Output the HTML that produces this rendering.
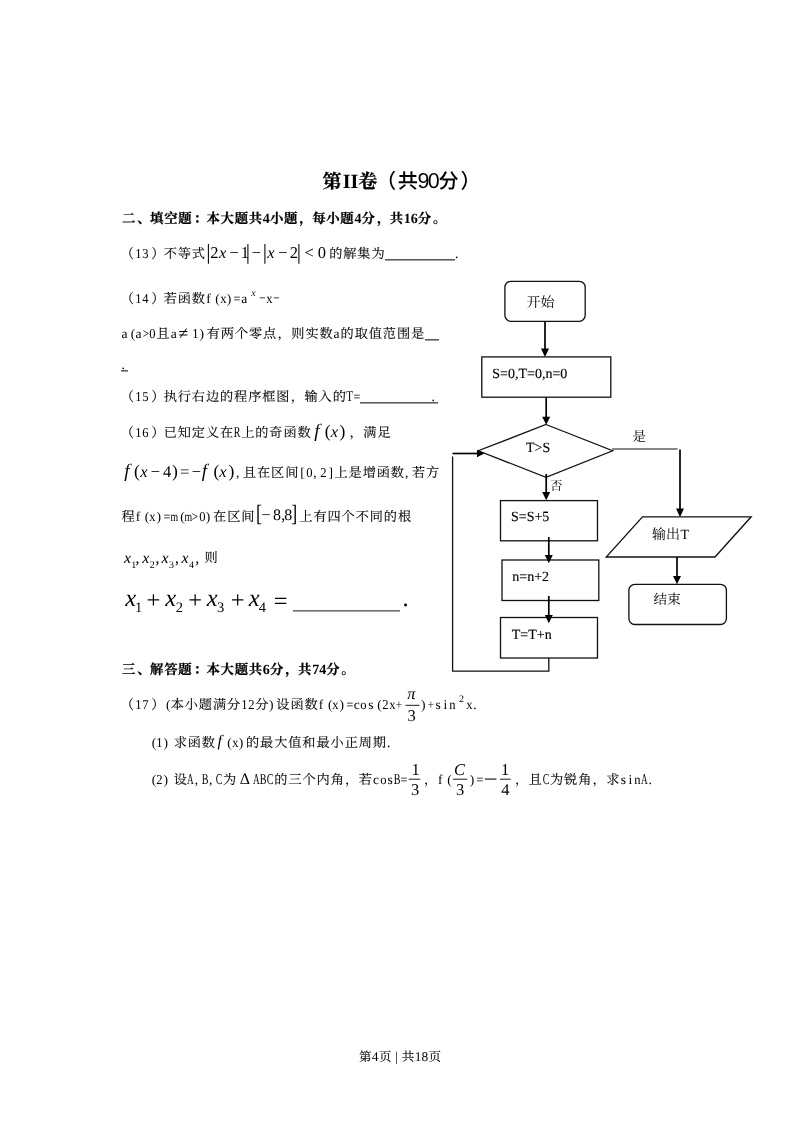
<!DOCTYPE html>
<html lang="zh-CN">
<head>
<meta charset="utf-8">
<title>第II卷（共90分）</title>
<style>
html,body{margin:0;padding:0;background:#fff}
#page{will-change:transform;text-rendering:geometricPrecision;position:relative;width:800px;height:1132px;overflow:hidden;background:#fff;color:#000;
  text-spacing-trim:space-all;font-kerning:none;font-variant-ligatures:none}
.l{position:absolute;font-size:0;line-height:0;white-space:nowrap;margin:0}
.l::before{content:"";display:inline-block;height:40px;width:0}
.l span,.l i,.l b{line-height:0}
.c{font-family:"Noto Serif CJK SC","Liberation Serif",serif;font-size:13.2px;letter-spacing:0.9px;position:relative;left:0.5px;-webkit-text-stroke:0.1px #000}
.b{font-family:"Noto Serif CJK SC","Liberation Serif",serif;font-size:13.4px;letter-spacing:0.7px;font-weight:bold;-webkit-text-stroke:0.25px #000;position:relative;left:1px}
.bd{font-family:"Liberation Serif",serif;font-size:14.1px;font-weight:bold;letter-spacing:0;-webkit-text-stroke:0;position:static}
.d{font-family:"Liberation Serif",serif;font-size:13.5px}
.h{font-family:"Liberation Serif",serif;font-size:13.5px}
.k{display:inline-block;text-align:center}
.pl{position:relative;left:-0.7px}
.pr{position:relative;left:1.7px}
.fd{font-family:"Liberation Serif",serif;font-size:13.4px}
.c.fc{font-size:12.5px;letter-spacing:0.9px}
.pc{position:relative;left:0.3px}
.b .pc{left:1.3px}
.pd{position:relative;left:1px}
.t{font-family:"Liberation Serif",serif;font-size:16px}
.t i,.tb i{font-style:italic}
.u{display:inline-block;height:0;border-top:1px solid #5a5a5a;border-bottom:1px solid #a0a0a0;vertical-align:-3px}
.g{display:inline-block;height:0}
svg{position:absolute;left:0;top:0}
svg text{font-family:"Liberation Serif","Noto Serif CJK SC",serif;font-size:14px;fill:#000;stroke:#000;stroke-width:0.12px}
svg .f{stroke:none}
svg .kk{font-family:"Noto Serif CJK SC","Liberation Serif",serif;font-size:14px;stroke:none}
</style>
</head>
<body>
<div id="page">

<!-- title -->
<h1 class="l" style="left:321.5px;top:148px"><span class="b" style="font-size:19.2px;letter-spacing:0.95px;-webkit-text-stroke:0.3px #000">第<span style="font-family:'Liberation Serif',serif;font-size:20.15px;font-weight:bold;letter-spacing:0;-webkit-text-stroke:0;display:inline-block;width:15.7px;text-align:center">II</span>卷</span><span style="font-family:'Noto Sans CJK SC','Liberation Sans',sans-serif;font-size:20.15px;font-weight:500"><span style="position:relative;left:-1.4px">（</span>共<span style="font-family:'Liberation Sans',sans-serif;font-size:21.5px;font-weight:normal;display:inline-block;width:20.8px;text-align:center;letter-spacing:-1.6px;text-indent:-0.8px">90</span>分<span style="position:relative;left:1.8px">）</span></span></h1>

<!-- section 2 heading -->
<h2 class="l" style="left:120.9px;top:183px"><span class="b">二<span class="pc">、</span>填空题<span class="pc">：</span>本大题共<span class="bd">4</span>小题<span class="pc">，</span>每小题<span class="bd">4</span>分<span class="pc">，</span>共<span class="bd">16</span>分<span class="pd">。</span></span></h2>

<!-- Q13 -->
<p class="l" style="left:120.9px;top:218px"><span class="c"><span class="pl">（</span></span><span class="d"><span class="k" style="width:6.75px;margin:0 0.151px 0 0.151px;transform:scaleX(0.933)">1</span><span class="k" style="width:6.75px;margin:0 0.151px 0 0.151px;transform:scaleX(0.933)">3</span></span><span class="c"><span class="pr">）</span>不等式</span></p>
<p class="l" style="left:328.7px;top:218px"><span class="c">的解集为</span><span class="u" style="width:69.5px"></span><span class="d"><span class="k" style="width:3.38px;margin:0 3.178px 0 0.500px">.</span></span></p>

<!-- Q14 -->
<p class="l" style="left:120.9px;top:263px"><span class="c"><span class="pl">（</span></span><span class="d"><span class="k" style="width:6.75px;margin:0 0.151px 0 0.151px;transform:scaleX(0.933)">1</span><span class="k" style="width:6.75px;margin:0 0.151px 0 0.151px;transform:scaleX(0.933)">4</span></span><span class="c"><span class="pr">）</span>若函数</span><span class="h"><span class="k" style="width:4.50px;margin:0 1.779px 0 0.779px">f</span><span class="k" style="width:4.50px;margin:0 -0.300px 0 2.857px">(</span><span class="k" style="width:6.75px;margin:0 0.151px 0 0.151px;transform:scaleX(0.933)">x</span><span class="k" style="width:4.50px;margin:0 2.257px 0 0.300px">)</span><span class="k" style="width:7.61px;margin:0 -0.280px 0 -0.280px;transform:scaleX(0.900)">=</span><span class="k" style="width:5.99px;margin:0 0.531px 0 0.531px">a</span></span><span class="g" style="width:11px"></span><span class="h"><span class="k" style="width:4.50px;margin:0 1.279px 0 1.279px;transform:scaleX(1.500);position:relative;top:-2px;color:#444">-</span><span class="k" style="width:6.75px;margin:0 0.151px 0 0.151px;transform:scaleX(0.933)">x</span><span class="k" style="width:4.50px;margin:0 1.279px 0 1.279px;transform:scaleX(1.500);position:relative;top:-2px;color:#444">-</span></span></p>
<p class="l" style="left:120.9px;top:298px"><span class="h"><span class="k" style="width:5.99px;margin:0 0.531px 0 0.531px">a</span><span class="k" style="width:4.50px;margin:0 -0.300px 0 2.857px">(</span><span class="k" style="width:5.99px;margin:0 0.531px 0 0.531px">a</span><span class="k" style="width:7.61px;margin:0 -0.280px 0 -0.280px;transform:scaleX(0.827)">&gt;</span></span><span class="d"><span class="k" style="width:6.75px;margin:0 0.151px 0 0.151px;transform:scaleX(0.933)">0</span></span><span class="c">且</span><span class="h"><span class="k" style="width:5.99px;margin:0 0.531px 0 0.531px">a</span></span><span class="g" style="width:15px"></span><span class="d"><span class="k" style="width:6.75px;margin:0 0.151px 0 0.151px;transform:scaleX(0.933)">1</span></span><span class="h"><span class="k" style="width:4.50px;margin:0 2.257px 0 0.300px">)</span></span><span class="c">有两个零点<span class="pc">，</span>则实数</span><span class="h"><span class="k" style="width:5.99px;margin:0 0.531px 0 0.531px">a</span></span><span class="c">的取值范围是</span><span class="u" style="width:14.1px"></span></p>
<p class="l" style="left:120.9px;top:329px"><span class="u" style="width:7.05px;margin-right:-7.05px"></span><span class="d"><span class="k" style="width:3.38px;margin:0 3.178px 0 0.500px">.</span></span></p>

<!-- Q15 -->
<p class="l" style="left:120.9px;top:361px"><span class="c"><span class="pl">（</span></span><span class="d"><span class="k" style="width:6.75px;margin:0 0.151px 0 0.151px;transform:scaleX(0.933)">1</span><span class="k" style="width:6.75px;margin:0 0.151px 0 0.151px;transform:scaleX(0.933)">5</span></span><span class="c"><span class="pr">）</span>执行右边的程序框图<span class="pc">，</span>输入的</span><span class="h"><span class="k" style="width:9.16px;margin:0 -1.055px 0 -1.055px;transform:scaleX(0.731);font-size:15px">T</span><span class="k" style="width:7.61px;margin:0 -0.280px 0 -0.280px;transform:scaleX(0.900)">=</span></span><span class="u" style="width:77.6px;margin-right:-7.05px"></span><span class="d"><span class="k" style="width:3.38px;margin:0 3.178px 0 0.500px">.</span></span></p>

<!-- Q16 -->
<p class="l" style="left:120.9px;top:397px"><span class="c"><span class="pl">（</span></span><span class="d"><span class="k" style="width:6.75px;margin:0 0.151px 0 0.151px;transform:scaleX(0.933)">1</span><span class="k" style="width:6.75px;margin:0 0.151px 0 0.151px;transform:scaleX(0.933)">6</span></span><span class="c"><span class="pr">）</span>已知定义在</span><span class="h"><span class="k" style="width:10.01px;margin:0 -1.476px 0 -1.476px;transform:scaleX(0.670);font-size:15px">R</span></span><span class="c">上的奇函数</span><span class="g" style="width:37.7px"></span><span class="c"><span class="pc">，</span>满足</span></p>
<p class="l" style="left:235.4px;top:437px"><span class="h"><span class="k" style="width:3.38px;margin:0 3.178px 0 0.500px">,</span></span><span class="c">且在区间</span><span class="h"><span class="k" style="width:4.50px;margin:0 1.200px 0 1.357px">[</span></span><span class="d"><span class="k" style="width:6.75px;margin:0 0.151px 0 0.151px;transform:scaleX(0.933)">0</span></span><span class="h"><span class="k" style="width:3.38px;margin:0 3.178px 0 0.500px">,</span></span><span class="d"><span class="k" style="width:6.75px;margin:0 0.151px 0 0.151px;transform:scaleX(0.933)">2</span></span><span class="h"><span class="k" style="width:4.50px;margin:0 1.057px 0 1.500px">]</span></span><span class="c">上是增函数</span><span class="h"><span class="k" style="width:3.38px;margin:0 3.178px 0 0.500px">,</span></span><span class="c">若方</span></p>
<p class="l" style="left:120.9px;top:481px"><span class="c">程</span><span class="h"><span class="k" style="width:4.50px;margin:0 1.779px 0 0.779px">f</span><span class="k" style="width:4.50px;margin:0 -0.300px 0 2.857px">(</span><span class="k" style="width:6.75px;margin:0 0.151px 0 0.151px;transform:scaleX(0.933)">x</span><span class="k" style="width:4.50px;margin:0 2.257px 0 0.300px">)</span><span class="k" style="width:7.61px;margin:0 -0.280px 0 -0.280px;transform:scaleX(0.900)">=</span><span class="k" style="width:10.50px;margin:0 -1.724px 0 -1.724px;transform:scaleX(0.724)">m</span><span class="k" style="width:4.50px;margin:0 -0.300px 0 2.857px">(</span><span class="k" style="width:10.50px;margin:0 -1.724px 0 -1.724px;transform:scaleX(0.724)">m</span><span class="k" style="width:7.61px;margin:0 -0.280px 0 -0.280px;transform:scaleX(0.827)">&gt;</span></span><span class="d"><span class="k" style="width:6.75px;margin:0 0.151px 0 0.151px;transform:scaleX(0.933)">0</span></span><span class="h"><span class="k" style="width:4.50px;margin:0 2.257px 0 0.300px">)</span></span><span class="c">在区间</span><span class="g" style="width:44px"></span><span class="c">上有四个不同的根</span></p>
<p class="l" style="left:204.1px;top:522px"><span class="c">则</span></p>

<!-- section 3 heading -->
<h2 class="l" style="left:120.9px;top:634px"><span class="b">三<span class="pc">、</span>解答题<span class="pc">：</span>本大题共<span class="bd">6</span>分<span class="pc">，</span>共<span class="bd">74</span>分<span class="pd">。</span></span></h2>

<!-- Q17 -->
<p class="l" style="left:120.9px;top:669px"><span class="c"><span class="pl">（</span></span><span class="d"><span class="k" style="width:6.75px;margin:0 0.151px 0 0.151px;transform:scaleX(0.933)">1</span><span class="k" style="width:6.75px;margin:0 0.151px 0 0.151px;transform:scaleX(0.933)">7</span></span><span class="c"><span class="pr">）</span></span><span class="h"><span class="k" style="width:4.50px;margin:0 -0.300px 0 2.857px">(</span></span><span class="c">本小题满分</span><span class="d"><span class="k" style="width:6.75px;margin:0 0.151px 0 0.151px;transform:scaleX(0.933)">1</span><span class="k" style="width:6.75px;margin:0 0.151px 0 0.151px;transform:scaleX(0.933)">2</span></span><span class="c">分</span><span class="h"><span class="k" style="width:4.50px;margin:0 2.257px 0 0.300px">)</span></span><span class="c">设函数</span><span class="h"><span class="k" style="width:4.50px;margin:0 1.779px 0 0.779px">f</span><span class="k" style="width:4.50px;margin:0 -0.300px 0 2.857px">(</span><span class="k" style="width:6.75px;margin:0 0.151px 0 0.151px;transform:scaleX(0.933)">x</span><span class="k" style="width:4.50px;margin:0 2.257px 0 0.300px">)</span><span class="k" style="width:7.61px;margin:0 -0.280px 0 -0.280px;transform:scaleX(0.900)">=</span><span class="k" style="width:5.99px;margin:0 0.531px 0 0.531px">c</span><span class="k" style="width:6.75px;margin:0 0.151px 0 0.151px;transform:scaleX(0.933)">o</span><span class="k" style="width:5.25px;margin:0 0.900px 0 0.900px">s</span><span class="k" style="width:4.50px;margin:0 -0.300px 0 2.857px">(</span></span><span class="d"><span class="k" style="width:6.75px;margin:0 0.151px 0 0.151px;transform:scaleX(0.933)">2</span></span><span class="h"><span class="k" style="width:6.75px;margin:0 0.151px 0 0.151px;transform:scaleX(0.933)">x</span><span class="k" style="width:7.61px;margin:0 -0.280px 0 -0.280px;transform:scaleX(0.827)">+</span></span><span class="g" style="width:18px"></span><span class="h"><span class="k" style="width:4.50px;margin:0 2.257px 0 0.300px">)</span><span class="k" style="width:7.61px;margin:0 -0.280px 0 -0.280px;transform:scaleX(0.827)">+</span><span class="k" style="width:5.25px;margin:0 0.900px 0 0.900px">s</span><span class="k" style="width:3.75px;margin:0 1.651px 0 1.651px">i</span><span class="k" style="width:6.75px;margin:0 0.151px 0 0.151px;transform:scaleX(0.933)">n</span></span><span class="g" style="width:10px"></span><span class="h"><span class="k" style="width:6.75px;margin:0 0.151px 0 0.151px;transform:scaleX(0.933)">x</span><span class="k" style="width:3.38px;margin:0 3.178px 0 0.500px">.</span></span></p>
<p class="l" style="left:149px;top:707px"><span class="h"><span class="k" style="width:4.50px;margin:0 -0.300px 0 2.857px">(</span></span><span class="d"><span class="k" style="width:6.75px;margin:0 0.151px 0 0.151px;transform:scaleX(0.933)">1</span></span><span class="h"><span class="k" style="width:4.50px;margin:0 2.257px 0 0.300px">)</span></span><span class="g" style="width:3px"></span><span class="c">求函数</span><span class="g" style="width:9px"></span><span class="h"><span class="k" style="width:4.50px;margin:0 -0.300px 0 2.857px">(</span><span class="k" style="width:6.75px;margin:0 0.151px 0 0.151px;transform:scaleX(0.933)">x</span><span class="k" style="width:4.50px;margin:0 2.257px 0 0.300px">)</span></span><span class="c">的最大值和最小正周期</span><span class="d"><span class="k" style="width:3.38px;margin:0 3.178px 0 0.500px">.</span></span></p>
<p class="l" style="left:149px;top:744px"><span class="h"><span class="k" style="width:4.50px;margin:0 -0.300px 0 2.857px">(</span></span><span class="d"><span class="k" style="width:6.75px;margin:0 0.151px 0 0.151px;transform:scaleX(0.933)">2</span></span><span class="h"><span class="k" style="width:4.50px;margin:0 2.257px 0 0.300px">)</span></span><span class="g" style="width:3px"></span><span class="c">设</span><span class="h"><span class="k" style="width:10.83px;margin:0 -1.890px 0 -1.890px;transform:scaleX(0.619);font-size:15px">A</span><span class="k" style="width:3.38px;margin:0 3.178px 0 0.500px">,</span><span class="k" style="width:10.01px;margin:0 -1.476px 0 -1.476px;transform:scaleX(0.670);font-size:15px">B</span><span class="k" style="width:3.38px;margin:0 3.178px 0 0.500px">,</span><span class="k" style="width:10.01px;margin:0 -1.476px 0 -1.476px;transform:scaleX(0.670);font-size:15px">C</span></span><span class="c">为</span><span class="g" style="width:16px"></span><span class="h"><span class="k" style="width:10.83px;margin:0 -1.890px 0 -1.890px;transform:scaleX(0.619);font-size:15px">A</span><span class="k" style="width:10.01px;margin:0 -1.476px 0 -1.476px;transform:scaleX(0.670);font-size:15px">B</span><span class="k" style="width:10.01px;margin:0 -1.476px 0 -1.476px;transform:scaleX(0.670);font-size:15px">C</span></span><span class="c">的三个内角<span class="pc">，</span>若</span><span class="h"><span class="k" style="width:5.99px;margin:0 0.531px 0 0.531px">c</span><span class="k" style="width:6.75px;margin:0 0.151px 0 0.151px;transform:scaleX(0.933)">o</span><span class="k" style="width:5.25px;margin:0 0.900px 0 0.900px">s</span><span class="k" style="width:10.01px;margin:0 -1.476px 0 -1.476px;transform:scaleX(0.670);font-size:15px">B</span><span class="k" style="width:7.61px;margin:0 -0.280px 0 -0.280px;transform:scaleX(0.900)">=</span></span><span class="g" style="width:15.5px"></span><span class="c"><span class="pc">，</span></span><span class="h"><span class="k" style="width:4.50px;margin:0 1.779px 0 0.779px">f</span><span class="k" style="width:4.50px;margin:0 -0.300px 0 2.857px">(</span></span><span class="g" style="width:18px"></span><span class="h"><span class="k" style="width:4.50px;margin:0 2.257px 0 0.300px">)</span><span class="k" style="width:7.61px;margin:0 -0.280px 0 -0.280px;transform:scaleX(0.900)">=</span></span><span class="c" style="-webkit-text-stroke:0.3px #000">—</span><span class="g" style="width:16.7px"></span><span class="c"><span class="pc">，</span>且</span><span class="h"><span class="k" style="width:10.01px;margin:0 -1.476px 0 -1.476px;transform:scaleX(0.670);font-size:15px">C</span></span><span class="c">为锐角<span class="pc">，</span>求</span><span class="h"><span class="k" style="width:5.25px;margin:0 0.900px 0 0.900px">s</span><span class="k" style="width:3.75px;margin:0 1.651px 0 1.651px">i</span><span class="k" style="width:6.75px;margin:0 0.151px 0 0.151px;transform:scaleX(0.933)">n</span><span class="k" style="width:10.83px;margin:0 -1.890px 0 -1.890px;transform:scaleX(0.619);font-size:15px">A</span><span class="k" style="width:3.38px;margin:0 3.178px 0 0.500px">.</span></span></p>

<!-- footer -->
<p class="l" style="left:358.4px;top:1021px"><span class="c fc">第</span><span class="fd">4</span><span class="c fc">页</span><span class="fd" style="white-space:pre"> | </span><span class="c fc">共</span><span class="fd">18</span><span class="c fc">页</span></p>

<svg width="800" height="1132" viewBox="0 0 800 1132">
<text class="f" style="font-size:16.5px"><tspan x="206.35" y="259.00" style="font-size:21.5px;">|</tspan><tspan x="210.26" y="258.00">2</tspan><tspan x="219.06" y="258.00" style="font-style:italic;">x</tspan><tspan x="229.58" y="258.00">−</tspan><tspan x="240.71" y="258.00">1</tspan><tspan x="245.85" y="259.00" style="font-size:21.5px;">|</tspan><tspan x="251.68" y="258.00">−</tspan><tspan x="262.85" y="259.00" style="font-size:21.5px;">|</tspan><tspan x="267.37" y="258.00" style="font-style:italic;">x</tspan><tspan x="278.18" y="258.00">−</tspan><tspan x="289.86" y="258.00">2</tspan><tspan x="296.85" y="259.00" style="font-size:21.5px;">|</tspan><tspan x="304.38" y="258.00">&lt;</tspan><tspan x="317.64" y="258.00">0</tspan></text>
<text class="f" style="font-size:16px"><tspan x="251.30" y="296.00" style="font-style:italic;font-size:10px;">x</tspan></text>
<text class="f" style="font-size:16px"><tspan x="178.60" y="339.00" style="font-size:17.5px;">≠</tspan></text>
<text class="f" style="font-size:16.5px"><tspan x="314.21" y="437.00" style="font-style:italic;font-size:19px;">f</tspan><tspan x="324.81" y="437.00" style="font-size:17.5px;">(</tspan><tspan x="330.77" y="437.00" style="font-style:italic;">x</tspan><tspan x="339.48" y="437.00" style="font-size:17.5px;">)</tspan></text>
<text class="f" style="font-size:16.5px"><tspan x="124.21" y="477.00" style="font-style:italic;font-size:19px;">f</tspan><tspan x="134.01" y="477.00" style="font-size:17.5px;">(</tspan><tspan x="140.16" y="477.00" style="font-style:italic;">x</tspan><tspan x="150.68" y="477.00">−</tspan><tspan x="162.97" y="477.00">4</tspan><tspan x="171.97" y="477.00" style="font-size:17.5px;">)</tspan><tspan x="179.88" y="477.00">=</tspan><tspan x="191.68" y="477.00">−</tspan><tspan x="201.81" y="477.00" style="font-style:italic;font-size:19px;">f</tspan><tspan x="213.41" y="477.00" style="font-size:17.5px;">(</tspan><tspan x="219.36" y="477.00" style="font-style:italic;">x</tspan><tspan x="228.47" y="477.00" style="font-size:17.5px;">)</tspan></text>
<text class="f" style="font-size:16px"><tspan x="261.50" y="520.00">−</tspan><tspan x="273.06" y="520.00">8</tspan><tspan x="281.36" y="520.00">,</tspan><tspan x="284.16" y="520.00">8</tspan></text>
<text class="f" style="font-size:16px"><tspan x="123.91" y="562.50" style="font-style:italic;">x</tspan><tspan x="131.35" y="567.50" style="font-size:10px;">1</tspan><tspan x="135.61" y="562.50">,</tspan><tspan x="142.16" y="562.50" style="font-style:italic;">x</tspan><tspan x="149.85" y="567.50" style="font-size:10px;">2</tspan><tspan x="155.61" y="562.50">,</tspan><tspan x="161.41" y="562.50" style="font-style:italic;">x</tspan><tspan x="169.10" y="567.50" style="font-size:10px;">3</tspan><tspan x="174.96" y="562.50">,</tspan><tspan x="181.41" y="562.50" style="font-style:italic;">x</tspan><tspan x="189.00" y="567.50" style="font-size:10px;">4</tspan><tspan x="195.16" y="562.50">,</tspan></text>
<text class="f" style="font-size:24.5px"><tspan x="125.25" y="606.00" style="font-style:italic;">x</tspan><tspan x="134.89" y="612.00" style="font-size:14.5px;">1</tspan><tspan x="146.47" y="608.00">+</tspan><tspan x="165.25" y="606.00" style="font-style:italic;">x</tspan><tspan x="175.65" y="612.00" style="font-size:14.5px;">2</tspan><tspan x="188.28" y="608.00">+</tspan><tspan x="206.75" y="606.00" style="font-style:italic;">x</tspan><tspan x="216.97" y="612.00" style="font-size:14.5px;">3</tspan><tspan x="230.78" y="608.00">+</tspan><tspan x="248.75" y="606.00" style="font-style:italic;">x</tspan><tspan x="258.71" y="612.00" style="font-size:14.5px;">4</tspan><tspan x="273.77" y="609.00">=</tspan></text>
<text class="f" style="font-size:16px"><tspan x="407.22" y="699.00" style="font-style:italic;font-size:16.5px;">π</tspan></text>
<text class="f" style="font-size:16.5px"><tspan x="407.48" y="721.00">3</tspan></text>
<text class="f" style="font-size:16px"><tspan x="459.05" y="702.00" style="font-size:10px;">2</tspan></text>
<text class="f" style="font-size:16px"><tspan x="217.44" y="746.00" style="font-style:italic;">f</tspan></text>
<text class="f" style="font-size:16px"><tspan x="239.86" y="784.00">Δ</tspan></text>
<text class="f" style="font-size:16.5px"><tspan x="411.51" y="775.00">1</tspan></text>
<text class="f" style="font-size:16.5px"><tspan x="410.88" y="795.00">3</tspan></text>
<text class="f" style="font-size:16.5px"><tspan x="454.09" y="775.00" style="font-style:italic;">C</tspan></text>
<text class="f" style="font-size:16.5px"><tspan x="455.88" y="795.00">3</tspan></text>
<text class="f" style="font-size:16.5px"><tspan x="501.01" y="775.00">1</tspan></text>
<text class="f" style="font-size:16.5px"><tspan x="501.17" y="795.00">4</tspan></text>
<text class="f" transform="translate(255.95 521.00) scale(1 1.3)" style="font-size:18px">[</text>
<text class="f" transform="translate(291.27 521.00) scale(1 1.3)" style="font-size:18px">]</text>
<path d="M293 610.8H400" stroke="#444" stroke-width="1.2" fill="none"/><text style="font-size:24.5px" x="402.5" y="606">.</text><path d="M405.5 705.3H419.5 M408.7 779.2H420.2 M453 779.2H467.3 M500 779.2H510.7" stroke="#000" stroke-width="0.9" fill="none"/>
<g fill="none" stroke="#111" stroke-width="1.3" stroke-linejoin="miter">
<rect x="504.9" y="281.3" width="80.3" height="40" rx="6" ry="6"/>
<rect x="481.8" y="356.9" width="129" height="40.3"/>
<path d="M546 424.5 L612.6 450.75 L546 477.3 L478.3 450.75 Z"/>
<rect x="500.5" y="500.6" width="97" height="40.2"/>
<rect x="502" y="560" width="96.8" height="40.5"/>
<rect x="500.5" y="617.5" width="97" height="40.5"/>
<path d="M642.5 516.8 H751.2 L715 557 H606.2 Z"/>
<rect x="628.9" y="584.3" width="97.5" height="40.2" rx="6" ry="6"/>
<path d="M548.8 658 V671.2 H452.6 V456.4"/>
<path d="M612 449 H677.5" stroke-width="1.1"/>
</g>
<g fill="none" stroke="#000" stroke-width="1.7">
<path d="M545 321.5 V350 M546.2 397.3 V418 M546.2 474 V494 M548.8 537 V556 M548.8 596 V616 M680 449.5 V510 M677 557 V577"/>
<path d="M452.5 453.5 H478"/>
</g>
<g fill="#000" stroke="none">
<path d="M541 348.5 H549 L545 357 Z"/>
<path d="M542.2 416.8 H550.2 L546.2 424.8 Z"/>
<path d="M542.2 492 H550.2 L546.2 500.2 Z"/>
<path d="M544.8 555 H552.8 L548.8 563.2 Z"/>
<path d="M544.8 615 H552.8 L548.8 623.2 Z"/>
<path d="M676 508.5 H684 L680 517 Z"/>
<path d="M673 576 H681 L677 584.3 Z"/>
<path d="M477 450 V457.2 L484.4 453.6 Z"/>
</g>
<text class="kk" x="526.5" y="307">开始</text>
<text x="492.3" y="378">S=0,T=0,n=0</text>
<text x="526" y="452">T&gt;S</text>
<text class="kk" x="632.5" y="441" style="font-size:13.5px">是</text>
<text class="kk" x="550" y="490" style="font-size:12.5px">否</text>
<text x="511" y="521">S=S+5</text>
<text x="512.3" y="581">n=n+2</text>
<text x="511.8" y="639">T=T+n</text>
<text class="kk" x="652" y="539">输出<tspan style="font-family:'Liberation Serif',serif" dx="0.5">T</tspan></text>
<text class="kk" x="653.6" y="604" style="font-size:13.6px">结束</text>
</svg>

</div>
</body>
</html>
